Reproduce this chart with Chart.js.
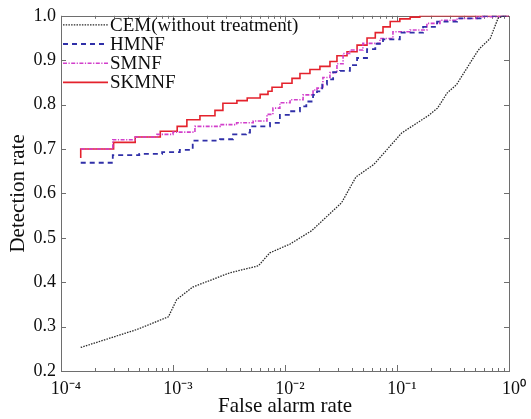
<!DOCTYPE html>
<html><head><meta charset="utf-8">
<script src="https://cdn.jsdelivr.net/npm/chart.js@4"></script>
<style>html,body{margin:0;padding:0;background:#fff}#wrap{width:531px;height:419px}</style>
</head><body><div id="wrap"><canvas id="c" width="531" height="419"></canvas></div>
<script>
// ---- data ----
const seriesNames = ['CEM(without treatment)', 'HMNF', 'SMNF', 'SKMNF'];
const xTickValues = [1e-4, 1e-3, 1e-2, 1e-1, 1];
const xTickLabels = ['10\u207B\u2074', '10\u207B\u00B3', '10\u207B\u00B2', '10\u207B\u00B9', '10\u2070'];
const yTickValues = [0.2, 0.3, 0.4, 0.5, 0.6, 0.7, 0.8, 0.9, 1.0];

const cemX = [1.5e-4, 4.7e-4, 9.1e-4, 1.08e-3, 1.5e-3, 3.2e-3, 5.8e-3, 7.3e-3, 1.11e-2, 1.73e-2, 3.2e-2, 4.3e-2, 6.2e-2, 0.11, 0.19, 0.23, 0.28, 0.34, 0.52, 0.55, 0.68, 0.8, 0.9, 1.0];
const cemY = [0.253, 0.293, 0.322, 0.361, 0.389, 0.421, 0.437, 0.466, 0.486, 0.516, 0.579, 0.637, 0.665, 0.736, 0.775, 0.792, 0.826, 0.845, 0.919, 0.927, 0.949, 0.995, 1.0, 1.0];

const hmnfX = [1.5e-4, 2.9e-4, 5.0e-4, 8.0e-4, 1.15e-3, 1.5e-3, 2.63e-3, 3.44e-3, 4.5e-3, 4.87e-3, 7.35e-3, 9.0e-3, 1.11e-2, 1.36e-2, 1.55e-2, 1.78e-2, 1.93e-2, 2.15e-2, 2.37e-2, 2.69e-2, 3.1e-2, 3.8e-2, 4.4e-2, 5.4e-2, 6.4e-2, 7.5e-2, 0.106, 0.171, 0.228, 0.344, 0.586, 1.0];
const hmnfY = [0.669, 0.686, 0.689, 0.693, 0.698, 0.719, 0.722, 0.733, 0.737, 0.751, 0.759, 0.777, 0.785, 0.796, 0.807, 0.822, 0.830, 0.845, 0.857, 0.873, 0.876, 0.889, 0.905, 0.925, 0.937, 0.947, 0.962, 0.975, 0.987, 0.994, 1.0, 1.0];

const smnfX = [1.5e-4, 2.9e-4, 4.6e-4, 7.2e-4, 1.0e-3, 1.57e-3, 2.63e-3, 3.7e-3, 5.2e-3, 6.9e-3, 7.8e-3, 9.0e-3, 1.11e-2, 1.45e-2, 1.78e-2, 1.93e-2, 2.18e-2, 2.52e-2, 2.91e-2, 3.3e-2, 3.8e-2, 4.96e-2, 7.05e-2, 9.2e-2, 0.131, 0.185, 0.242, 0.344, 0.518, 0.83, 1.0];
const smnfY = [0.700, 0.721, 0.727, 0.733, 0.738, 0.751, 0.755, 0.759, 0.763, 0.778, 0.792, 0.804, 0.811, 0.822, 0.833, 0.837, 0.861, 0.872, 0.892, 0.915, 0.923, 0.938, 0.949, 0.964, 0.968, 0.983, 0.990, 0.994, 0.998, 1.0, 1.0];

const skmnfX = [1.5e-4, 1.5e-4, 2.95e-4, 4.6e-4, 7.7e-4, 1.09e-3, 1.33e-3, 1.74e-3, 2.37e-3, 2.79e-3, 3.72e-3, 4.6e-3, 6.0e-3, 7.05e-3, 7.66e-3, 9.4e-3, 1.155e-2, 1.36e-2, 1.67e-2, 2.05e-2, 2.52e-2, 2.91e-2, 3.58e-2, 4.4e-2, 5.4e-2, 6.4e-2, 7.5e-2, 8.7e-2, 0.106, 0.131, 0.16, 1.0];
const skmnfY = [0.680, 0.700, 0.715, 0.727, 0.740, 0.751, 0.766, 0.775, 0.787, 0.803, 0.809, 0.815, 0.823, 0.830, 0.839, 0.848, 0.859, 0.870, 0.879, 0.886, 0.897, 0.910, 0.919, 0.934, 0.950, 0.962, 0.975, 0.987, 0.993, 0.997, 1.0, 1.0];

const pts = (xs, ys) => xs.map((x, i) => ({x: x, y: ys[i]}));

const SERIF = '"Liberation Serif", "Times New Roman", serif';
const INK = '#0d0d0d';

// frame + inward ticks drawn from the chart's own scales
const framePlugin = {
  id: 'frame',
  beforeDatasetsDraw(chart) {
    const {ctx, chartArea: a, scales: {x, y}} = chart;
    ctx.save();
    ctx.strokeStyle = '#6e6e6e';
    ctx.lineWidth = 1;
    ctx.strokeRect(Math.round(a.left) + 0.5, Math.round(a.top) + 0.5, Math.round(a.right - a.left), Math.round(a.bottom - a.top));
    ctx.beginPath();
    yTickValues.forEach(v => {
      const py = Math.round(y.getPixelForValue(v)) + 0.5;
      ctx.moveTo(a.left, py); ctx.lineTo(a.left + 5, py);
      ctx.moveTo(a.right, py); ctx.lineTo(a.right - 5, py);
    });
    for (let d = -4; d < 0; d++) {
      for (let m = 1; m <= 9; m++) {
        const v = m * Math.pow(10, d);
        const px = Math.round(x.getPixelForValue(v)) + 0.5;
        const len = m === 1 ? 6 : 3;
        ctx.moveTo(px, a.bottom); ctx.lineTo(px, a.bottom - len);
        ctx.moveTo(px, a.top); ctx.lineTo(px, a.top + len);
      }
    }
    ctx.stroke();
    ctx.restore();
  }
};

// legend inside the plot area (top-left), using each dataset's own style
const legendPlugin = {
  id: 'inlegend',
  afterDatasetsDraw(chart) {
    const {ctx, chartArea: a} = chart;
    ctx.save();
    chart.data.datasets.forEach((ds, i) => {
      const yy = a.top + 9 + i * 19.2;
      ctx.beginPath();
      ctx.strokeStyle = ds.borderColor;
      ctx.lineWidth = ds.borderWidth;
      ctx.setLineDash(ds.borderDash || []);
      ctx.moveTo(a.left + 2, yy); ctx.lineTo(a.left + 47, yy);
      ctx.stroke();
      ctx.setLineDash([]);
      ctx.fillStyle = INK;
      ctx.font = '19px ' + SERIF;
      ctx.textBaseline = 'middle';
      ctx.textAlign = 'left';
      ctx.fillText(ds.label, a.left + 49, yy + 1);
    });
    ctx.restore();
  }
};

new Chart(document.getElementById('c'), {
  type: 'line',
  data: {
    datasets: [
      {label: seriesNames[0], data: pts(cemX, cemY), borderColor: '#2a2a2a', borderWidth: 1.3, borderDash: [1.5, 1.2], pointRadius: 0, tension: 0, fill: false},
      {label: seriesNames[1], data: pts(hmnfX, hmnfY), borderColor: '#2f2fa8', borderWidth: 1.8, borderDash: [5, 4], pointRadius: 0, stepped: true, fill: false},
      {label: seriesNames[2], data: pts(smnfX, smnfY), borderColor: '#d23fcb', borderWidth: 1.6, borderDash: [4, 1.5, 1.2, 1.5], pointRadius: 0, stepped: true, fill: false},
      {label: seriesNames[3], data: pts(skmnfX, skmnfY), borderColor: '#e4222c', borderWidth: 1.6, pointRadius: 0, stepped: true, fill: false}
    ]
  },
  options: {
    responsive: false,
    animation: false,
    devicePixelRatio: 1,
    layout: {padding: {left: 6, right: 22, top: 14, bottom: 0}},
    plugins: {legend: {display: false}, tooltip: {enabled: false}},
    scales: {
      x: {
        type: 'logarithmic', min: 1e-4, max: 1,
        grid: {display: false, drawTicks: false}, border: {display: false},
        afterBuildTicks: s => { s.ticks = xTickValues.map(v => ({value: v, major: true})); },
        ticks: {
          autoSkip: false, maxRotation: 0, minRotation: 0, padding: 7, color: INK, labelOffset: 5,
          font: {family: SERIF, size: 18},
          callback: (v, i) => xTickLabels[i]
        },
        title: {display: true, text: 'False alarm rate', color: INK, font: {family: SERIF, size: 21}, padding: 0},
        afterFit: s => { s.height = 48; }
      },
      y: {
        min: 0.2, max: 1.0,
        grid: {display: false, drawTicks: false}, border: {display: false},
        afterBuildTicks: s => { s.ticks = yTickValues.map(v => ({value: v})); },
        ticks: {
          padding: 5, color: INK, font: {family: SERIF, size: 18},
          callback: v => Number(v).toFixed(1)
        },
        title: {display: true, text: 'Detection rate', color: INK, font: {family: SERIF, size: 21}, padding: 0},
        afterFit: s => { s.width = 55; }
      }
    }
  },
  plugins: [framePlugin, legendPlugin]
});
</script>
</body></html>
